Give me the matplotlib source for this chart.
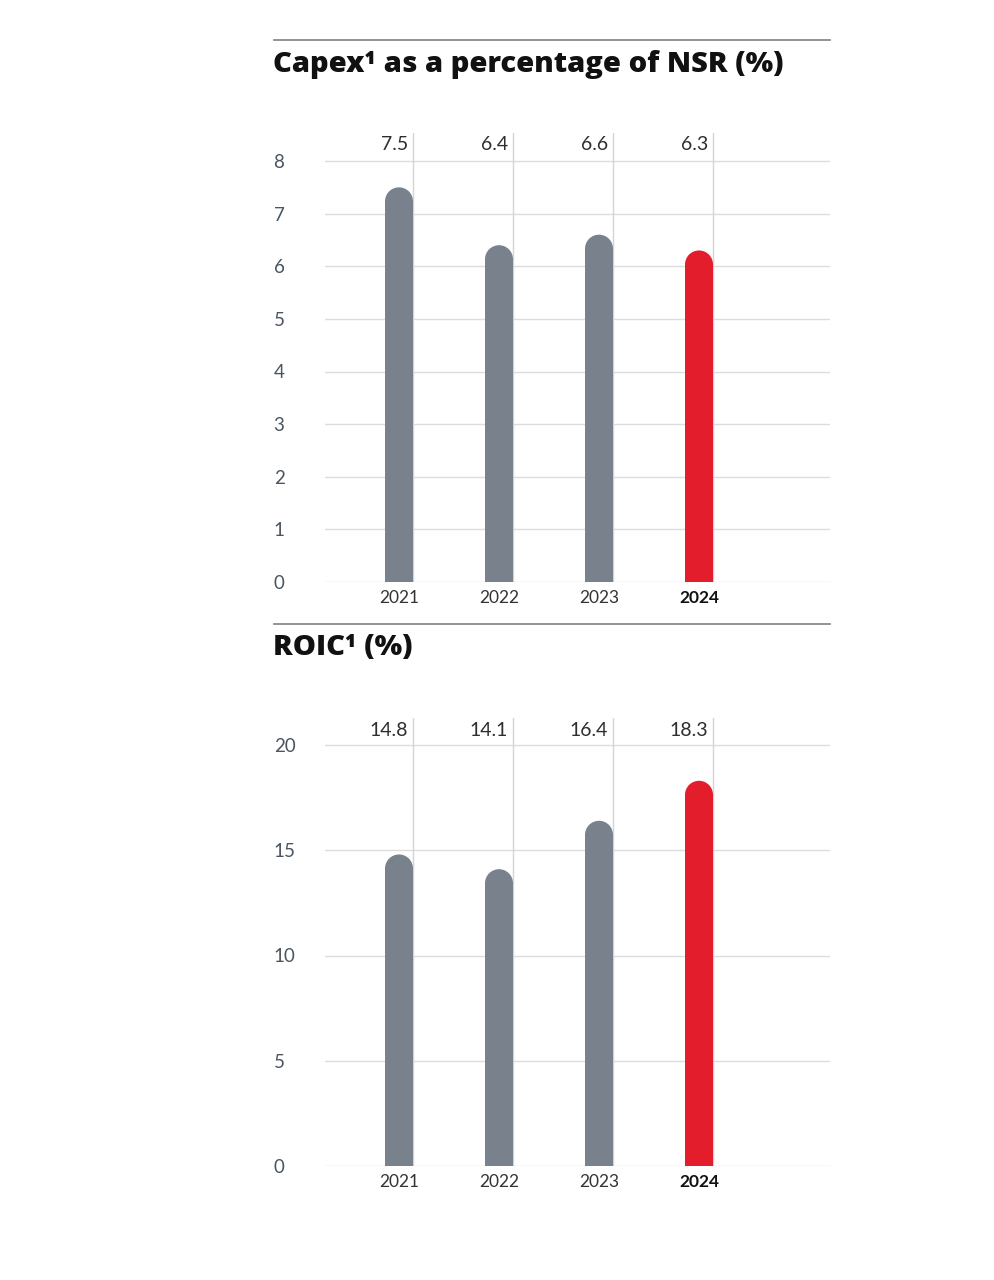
import matplotlib
matplotlib.use("Agg")
import matplotlib.pyplot as plt
from matplotlib.patches import Ellipse

years = ["2021", "2022", "2023", "2024"]
capex_values = [7.5, 6.4, 6.6, 6.3]
roic_values = [14.8, 14.1, 16.4, 18.3]
capex_ticks = [0, 1, 2, 3, 4, 5, 6, 7, 8]
roic_ticks = [0, 5, 10, 15, 20]
capex_title = "Capex¹ as a percentage of NSR (%)"
roic_title = "ROIC¹ (%)"

GREY = "#79828c"
RED = "#e31d2c"
GRID = "#dcdcdc"
VLINE = "#d4d4d4"
RULE = "#8a8a8a"
TICKC = "#4a5560"
FONT = "Lato"
TFONT = "Open Sans"

W, H = 994, 1280
fig = plt.figure(figsize=(W / 100, H / 100), dpi=100)


def px_rect(left, top, right, bottom):
    return [left / W, 1 - bottom / H, (right - left) / W, (bottom - top) / H]


def draw_panel(top_px, base_px, px_per_unit, values, ticks, title, rule_y, title_base):
    ax = fig.add_axes(px_rect(325, top_px, 830, base_px))
    ytop = (base_px - top_px) / px_per_unit
    ax.set_ylim(0, ytop)
    ax.set_xlim(-0.74, 4.31)
    for s in ax.spines.values():
        s.set_visible(False)
    for t in ticks:
        ax.axhline(t, color=GRID, lw=1.0, zorder=0)
    bw = 0.28
    r_y = 14 / px_per_unit
    for i, v in enumerate(values):
        c = RED if i == len(values) - 1 else GREY
        ax.plot([i + bw / 2, i + bw / 2], [0, ytop], color=VLINE, lw=1.0, zorder=1)
        ax.bar(i, v - r_y, width=bw, color=c, zorder=2, linewidth=0)
        ax.add_patch(Ellipse((i, v - r_y), bw, 2 * r_y, color=c, zorder=2, lw=0))
        ax.text(i + bw / 2 - 0.05, ytop - 12 / px_per_unit, f"{v}", ha="right", va="center",
                fontsize=14, family=FONT, fontweight="normal", color="#2e2e2e", zorder=3)
    ax.set_yticks(ticks)
    ax.set_yticklabels([str(t) for t in ticks], fontsize=13.5, family=FONT, color=TICKC,
                       ha="left")
    ax.tick_params(axis="y", length=0, pad=37)
    ax.set_xticks(range(len(years)))
    ax.set_xticklabels(years, fontsize=12.5, family=FONT, color="#333333")
    ax.get_xticklabels()[-1].set_fontweight("bold")
    ax.get_xticklabels()[-1].set_color("#111111")
    ax.tick_params(axis="x", length=0, pad=6)
    fig.add_artist(plt.Line2D([274 / W, 830 / W], [1 - rule_y / H, 1 - rule_y / H],
                              color=RULE, lw=1.3))
    fig.text(273 / W, 1 - title_base / H, title, ha="left", va="baseline",
             fontsize=21, family=TFONT, fontweight="heavy", color="#111111")
    return ax


draw_panel(133, 582, (582 - 161) / 8, capex_values, capex_ticks, capex_title, 40, 72)
draw_panel(718, 1166, (1166 - 745) / 20, roic_values, roic_ticks, roic_title, 624, 655)

fig.savefig("out.png", dpi=100, facecolor="white")
